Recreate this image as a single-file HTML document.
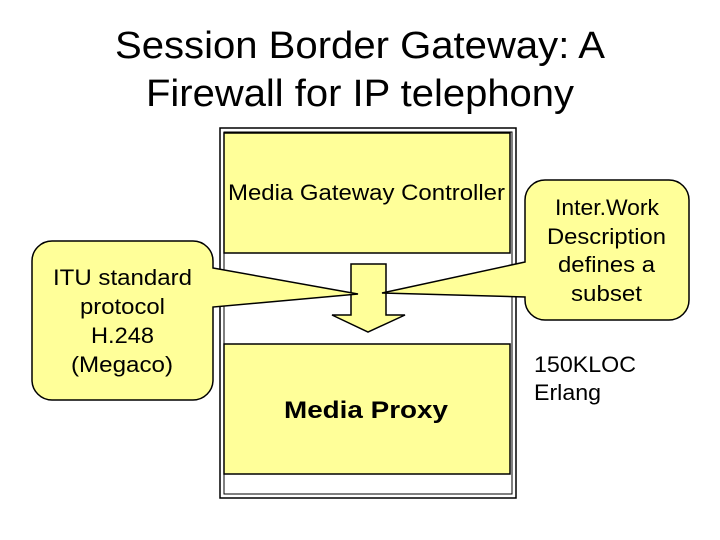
<!DOCTYPE html>
<html><head><style>
body{margin:0;width:720px;height:540px;background:#fff;overflow:hidden;font-family:"Liberation Sans",sans-serif;}
</style></head><body>
<svg width="720" height="540" style="position:absolute;left:0;top:0" font-family="Liberation Sans, sans-serif">
<g font-size="38" fill="#000">
<text x="115" y="58" textLength="490" lengthAdjust="spacingAndGlyphs">Session Border Gateway: A</text>
<text x="146" y="106" textLength="428" lengthAdjust="spacingAndGlyphs">Firewall for IP telephony</text>
</g>
<rect x="220" y="128" width="296" height="370" fill="none" stroke="#000" stroke-width="1.5"/>
<rect x="224" y="132" width="288" height="362" fill="none" stroke="#000" stroke-width="1"/>
<rect x="224" y="133" width="286" height="120" fill="#ffff99" stroke="#000" stroke-width="1.5"/>
<rect x="224" y="344" width="286" height="130" fill="#ffff99" stroke="#000" stroke-width="1.5"/>
<polygon points="351,264 386,264 386,315 405,315 368,332 332,315 351,315" fill="#ffff99" stroke="#000" stroke-width="1.5"/>
<path d="M52,241 H193 A20,20 0 0 1 213,261 V268 L358,294 L213,307 V380 A20,20 0 0 1 193,400 H52 A20,20 0 0 1 32,380 V261 A20,20 0 0 1 52,241 Z" fill="#ffff99" stroke="#000" stroke-width="1.5"/>
<path d="M545,180 H669 A20,20 0 0 1 689,200 V300 A20,20 0 0 1 669,320 H545 A20,20 0 0 1 525,300 V297 L382,293 L525,262 V200 A20,20 0 0 1 545,180 Z" fill="#ffff99" stroke="#000" stroke-width="1.5"/>
<g font-size="22" fill="#000" lengthAdjust="spacingAndGlyphs">
<text x="228" y="200" textLength="277" lengthAdjust="spacingAndGlyphs">Media Gateway Controller</text>
<text x="53" y="285" textLength="139" lengthAdjust="spacingAndGlyphs">ITU standard</text>
<text x="80" y="314" textLength="85" lengthAdjust="spacingAndGlyphs">protocol</text>
<text x="91" y="343" textLength="63" lengthAdjust="spacingAndGlyphs">H.248</text>
<text x="71" y="372" textLength="102" lengthAdjust="spacingAndGlyphs">(Megaco)</text>
<text x="555" y="215" textLength="104" lengthAdjust="spacingAndGlyphs">Inter.Work</text>
<text x="547" y="244" textLength="119" lengthAdjust="spacingAndGlyphs">Description</text>
<text x="558" y="272" textLength="97" lengthAdjust="spacingAndGlyphs">defines a</text>
<text x="571" y="301" textLength="71" lengthAdjust="spacingAndGlyphs">subset</text>
<text x="284" y="418" font-weight="bold" font-size="24" textLength="164" lengthAdjust="spacingAndGlyphs">Media Proxy</text>
<text x="534" y="372" textLength="102" lengthAdjust="spacingAndGlyphs">150KLOC</text>
<text x="534" y="400" textLength="67" lengthAdjust="spacingAndGlyphs">Erlang</text>
</g>
</svg>
</body></html>
